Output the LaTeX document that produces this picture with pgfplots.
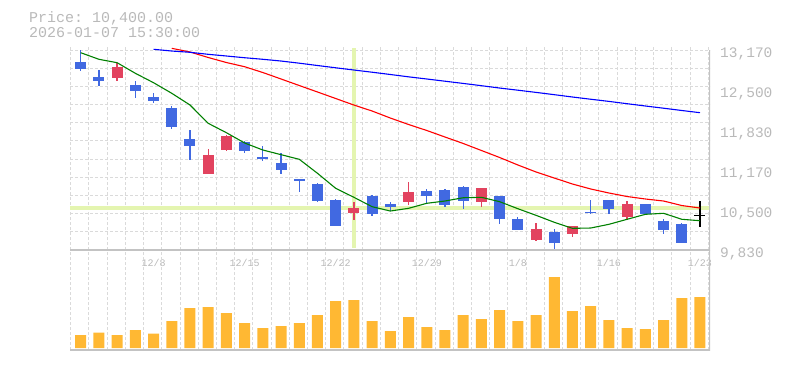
\documentclass[border=0pt]{standalone}
\usepackage{pgfplots}
\pgfplotsset{compat=1.18}
\usepackage{pgfplotstable}
\usepackage{fontspec}
\setmonofont{Liberation Mono}
\definecolor{cblue}{RGB}{65,105,225}
\definecolor{cred}{RGB}{226,67,95}
\definecolor{vol}{RGB}{255,184,51}
\definecolor{gridc}{RGB}{218,218,218}
\definecolor{axc}{RGB}{195,195,195}
\definecolor{txt}{RGB}{185,185,185}
\definecolor{crossc}{RGB}{228,245,176}
\definecolor{mgreen}{RGB}{0,128,0}

\pgfplotstableread{
i o h l c
0 12970 13170 12824 12858
1 12724 12836 12574 12657
3 12585 12652 12373 12490
4 12385 12452 12290 12323
5 12201 12235 11856 11889
6 11684 11834 11333 11572
9 11634 11655 11455 11488
10 11383 11567 11321 11350
11 11283 11445 11104 11171
12 11016 11016 10804 10987
13 10932 10954 10632 10653
14 10665 10682 10236 10236
16 10732 10743 10403 10436
17 10598 10632 10476 10553
19 10815 10849 10615 10737
20 10832 10849 10553 10587
21 10882 10899 10520 10653
23 10732 10732 10269 10353
24 10348 10386 10169 10169
26 10131 10181 9830 9952
28 10465 10665 10426 10448
29 10665 10665 10436 10520
31 10598 10598 10426 10436
32 10314 10348 10102 10169
33 10264 10281 9952 9952
}\down

\pgfplotstableread{
i o h l c
2 12707 12948 12657 12886
7 11104 11512 11104 11417
8 11500 11751 11488 11734
15 10453 10632 10331 10531
18 10632 10966 10587 10799
22 10632 10865 10553 10865
25 9997 10286 9980 10181
27 10102 10231 10047 10231
30 10386 10643 10336 10598
}\up

\pgfplotstableread{
i o h l c
34 10417 10648 10209 10400
}\last

\pgfplotstableread{
i g r b
0 13125 nan nan
1 13015 nan nan
2 12958 nan nan
3 12781 nan nan
4 12624 nan 13182
5 12447 13198 13153
6 12252 13137 13132
7 11946 13045 13098
8 11789 12961 13070
9 11617 12891 13041
10 11500 12794 13015
11 11422 12686 12986
12 11345 12577 12950
13 11111 12469 12911
14 10860 12360 12873
15 10710 12251 12836
16 10553 12151 12799
17 10481 12034 12761
18 10526 11926 12722
19 10610 11826 12686
20 10648 11717 12649
21 10703 11609 12612
22 10710 11492 12574
23 10637 11375 12535
24 10520 11250 12499
25 10409 11133 12462
26 10293 11032 12424
27 10192 10932 12385
28 10197 10849 12348
29 10259 10782 12312
30 10343 10723 12273
31 10426 10682 12235
32 10443 10648 12198
33 10343 10573 12160
34 10319 10531 12123
}\ma

\pgfplotstableread{
i v
0 13
1 15.3
2 13
3 18
4 14.3
5 27
6 40
7 41
8 35
9 25
10 20
11 22
12 25
13 33
14 47
15 48
16 27
17 17
18 31
19 21
20 18
21 33
22 29
23 38
24 27
25 33
26 71
27 37
28 42
29 28
30 20
31 19
32 28
33 50
34 51
}\volume

\begin{document}
\begin{tikzpicture}
\useasboundingbox (0,0) rectangle (785bp,-370bp);
\node[anchor=base west, inner sep=0pt, text=txt, font=\fontsize{15bp}{18bp}\selectfont\ttfamily] at (29bp,-22.7bp) {Price: 10,400.00};
\node[anchor=base west, inner sep=0pt, text=txt, font=\fontsize{15bp}{18bp}\selectfont\ttfamily] at (29bp,-37.5bp) {2026-01-07 15:30:00};

\begin{axis}[
  at={(70bp,-250bp)}, anchor=south west, scale only axis,
  width=640bp, height=204bp,
  xmin=-0.587, xmax=34.55, ymin=9830, ymax=13237,
  axis line style={draw=none},
  scaled y ticks=false, scaled x ticks=false,
  major tick length=0pt, minor tick length=0pt,
  xtick={4,9,14,19,24,29,34},
  xticklabels={12/8,12/15,12/22,12/29,1/8,1/16,1/23},
  xticklabel style={font=\fontsize{10bp}{12bp}\selectfont\ttfamily, text=txt, anchor=base, inner sep=0pt, yshift=-16bp},
  minor xtick={-0.55,0.45,...,34.46},
  xminorgrids,
  ytick={9830,10498,11166,11834,12502,13170},
  yticklabels={{9,830},{10,500},{11,170},{11,830},{12,500},{13,170}},
  yticklabel pos=right,
  yticklabel style={font=\fontsize{14.5bp}{16bp}\selectfont\ttfamily, text=txt, anchor=base west, inner sep=0pt, xshift=10bp, yshift=-7.5bp},
  minor ytick={9830,10133.64,10437.27,10740.91,11044.55,11348.18,11651.82,11955.45,12259.09,12562.73,12866.36,13170},
  yminorgrids,
  minor grid style={gridc, line width=0.9bp, dash pattern=on 3bp off 2bp},
]
% crosshair
\addplot[crossc, line width=3.3bp, forget plot] coordinates {(15,9870) (15,13205)};
\addplot[crossc, line width=3.3bp, forget plot] coordinates {(-0.587,10531) (34.55,10531)};

% wicks
\addplot[draw=none, mark=none, forget plot, error bars/.cd, y dir=both, y explicit, error mark=none,
  error bar style={draw=cblue, line width=1.3bp, solid}]
  table[x=i, y expr={(\thisrow{h}+\thisrow{l})/2}, y error expr={(\thisrow{h}-\thisrow{l})/2}] {\down};
\addplot[draw=none, mark=none, forget plot, error bars/.cd, y dir=both, y explicit, error mark=none,
  error bar style={draw=cred, line width=1.3bp, solid}]
  table[x=i, y expr={(\thisrow{h}+\thisrow{l})/2}, y error expr={(\thisrow{h}-\thisrow{l})/2}] {\up};
\addplot[draw=none, mark=none, forget plot, error bars/.cd, y dir=both, y explicit, error mark=none,
  error bar style={draw=black, line width=1.3bp, solid}]
  table[x=i, y expr={(\thisrow{h}+\thisrow{l})/2}, y error expr={(\thisrow{h}-\thisrow{l})/2}] {\last};
% bodies
\addplot[draw=none, mark=none, forget plot, error bars/.cd, y dir=both, y explicit, error mark=none,
  error bar style={draw=cblue, line width=11bp, solid}]
  table[x=i, y expr={(\thisrow{o}+\thisrow{c})/2}, y error expr={abs(\thisrow{o}-\thisrow{c})/2}] {\down};
\addplot[draw=none, mark=none, forget plot, error bars/.cd, y dir=both, y explicit, error mark=none,
  error bar style={draw=cred, line width=11bp, solid}]
  table[x=i, y expr={(\thisrow{o}+\thisrow{c})/2}, y error expr={abs(\thisrow{o}-\thisrow{c})/2}] {\up};
\addplot[draw=none, mark=none, forget plot, error bars/.cd, y dir=both, y explicit, error mark=none,
  error bar style={draw=black, line width=11bp, solid}]
  table[x=i, y expr={(\thisrow{o}+\thisrow{c})/2}, y error expr={abs(\thisrow{o}-\thisrow{c})/2}] {\last};

% moving averages
\addplot[mgreen, line width=1.1bp, mark=none] table[x=i, y=g] {\ma};
\addplot[red, line width=1.1bp, mark=none] table[x=i, y=r] {\ma};
\addplot[blue, line width=1.1bp, mark=none] table[x=i, y=b] {\ma};

\draw[axc, line width=1.4bp] (rel axis cs:0,0) -- (rel axis cs:1,0);
\draw[axc, line width=1.4bp] (rel axis cs:1,0) -- (rel axis cs:1,0.9803);
\end{axis}

\begin{axis}[
  at={(70bp,-350bp)}, anchor=south west, scale only axis,
  width=640bp, height=100bp,
  xmin=-0.587, xmax=34.55, ymin=-2, ymax=98,
  axis line style={draw=none},
  scaled y ticks=false, scaled x ticks=false,
  major tick length=0pt,
  xtick={-0.55,0.45,...,34.46},
  xticklabel style={text opacity=0, opacity=0},
  ytick=\empty,
  xmajorgrids,
  major grid style={gridc, line width=0.9bp, dash pattern=on 3bp off 2bp},
  ybar, bar width=11bp,
]
\addplot[fill=vol, draw=none] table[x=i, y=v] {\volume};
\draw[axc, line width=1.4bp] (rel axis cs:0,0) -- (rel axis cs:1,0) -- (rel axis cs:1,1);
\end{axis}
\end{tikzpicture}
\end{document}
